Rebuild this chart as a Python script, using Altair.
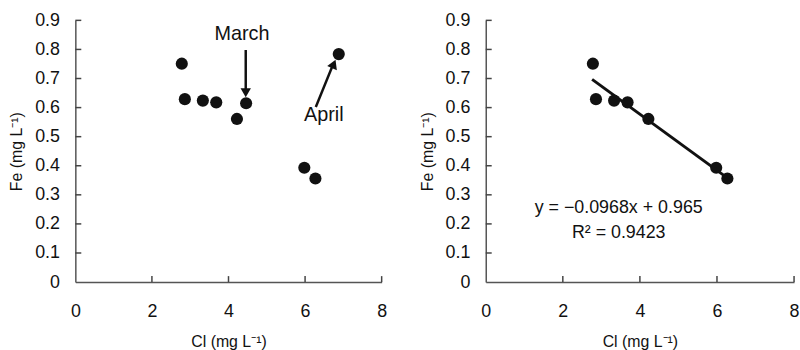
import altair as alt
import pandas as pd

# Data
cl = [2.78, 2.86, 3.33, 3.68, 4.22, 4.46, 5.98, 6.27, 6.88]
fe = [0.751, 0.629, 0.624, 0.618, 0.561, 0.615, 0.393, 0.356, 0.784]
month = ["", "", "", "", "", "March", "", "", "April"]

reg_x = [2.76, 6.25]
reg_y = [0.697, 0.360]

eq_text = ["y = \u22120.0968x + 0.965", "R\u00b2 = 0.9423"]
eq_x = [3.45, 3.45]
eq_y = [0.253, 0.168]

ann_text = ["March", "April"]
ann_x = [4.35, 6.49]
ann_y = [0.852, 0.576]

# arrows: shaft start -> shaft end, head position and rotation
arr_x = [4.45, 6.28]
arr_y = [0.798, 0.602]
arr_x2 = [4.45, 6.72]
arr_y2 = [0.660, 0.745]
head_x = [4.45, 6.75]
head_y = [0.651, 0.750]
head_angle = [180, 23]

ytick_vals = [0, 0.1, 0.2, 0.3, 0.4, 0.5, 0.6, 0.7, 0.8, 0.9]
xtick_vals = [0, 2, 4, 6, 8]

H = 264
LABEL_FONT = "Liberation Sans Narrow, Liberation Sans, Arial"
TEXT_FONT = "Liberation Sans, Arial"

pts = pd.DataFrame({"cl": cl, "fe": fe, "month": month})
pts_fit = pts[pts["month"] == ""]
reg = pd.DataFrame({"cl": reg_x, "fe": reg_y})
eq = pd.DataFrame({"cl": eq_x, "fe": eq_y, "t": eq_text})
ann = pd.DataFrame({"cl": ann_x, "fe": ann_y, "t": ann_text})
arr = pd.DataFrame({"cl": arr_x, "fe": arr_y, "cl2": arr_x2, "fe2": arr_y2})
heads = pd.DataFrame({"cl": head_x, "fe": head_y, "a": head_angle})
yt = pd.DataFrame({"fe": ytick_vals[1:]})
xt = pd.DataFrame({"cl": xtick_vals[1:]})

xscale = alt.Scale(domain=[0, 8], nice=False)
yscale = alt.Scale(domain=[0, 0.9], nice=False)

xaxis = alt.Axis(values=xtick_vals, title="Cl (mg L\u207b\u00b9)", grid=False, ticks=False,
                 labelPadding=21, titlePadding=13, labelFlush=False, labelOverlap=False)
yaxis = alt.Axis(values=ytick_vals, format=".1~f",
                 title="Fe (mg L\u207b\u00b9)", grid=False, ticks=False,
                 labelPadding=16, titlePadding=10, labelFlush=False, labelOverlap=False)

X = alt.X("cl:Q", scale=xscale, axis=xaxis)
Y = alt.Y("fe:Q", scale=yscale, axis=yaxis)

TICK_COLOR = "#444"


def tick_layers():
    # inward-pointing ticks drawn as short rules at the tick values
    ytk = alt.Chart(yt).mark_rule(color=TICK_COLOR, strokeWidth=1.5).encode(
        y=Y, x=alt.value(0), x2=alt.value(6))
    xtk = alt.Chart(xt).mark_rule(color=TICK_COLOR, strokeWidth=1.5).encode(
        x=X, y=alt.value(H), y2=alt.value(H - 6))
    return [ytk, xtk]


WL, WR = 309, 311

left = alt.layer(
    alt.Chart(pts).mark_circle(size=150, color="#111", opacity=1).encode(x=X, y=Y),
    *tick_layers(),
    alt.Chart(ann).mark_text(font=TEXT_FONT, fontSize=20, color="#111", baseline="middle").encode(
        x=X, y=Y, text="t:N"),
    alt.Chart(arr).mark_rule(color="#111", strokeWidth=2.5).encode(
        x=X, y=Y, x2="cl2:Q", y2="fe2:Q"),
    alt.Chart(heads).mark_point(shape="triangle-up", filled=True, size=110, color="#111", opacity=1).encode(
        x=X, y=Y, angle=alt.Angle("a:Q", scale=None)),
).properties(width=WL, height=H)

right = alt.layer(
    alt.Chart(pts_fit).mark_circle(size=150, color="#111", opacity=1).encode(x=X, y=Y),
    *tick_layers(),
    alt.Chart(reg).mark_line(color="#111", strokeWidth=3).encode(x=X, y=Y),
    alt.Chart(eq).mark_text(font=LABEL_FONT, fontSize=18, color="#111", baseline="middle").encode(
        x=X, y=Y, text="t:N"),
).properties(width=WR, height=H)

chart = alt.hconcat(left, right, spacing=31).properties(
    padding={"left": 8, "top": 10, "right": 0, "bottom": 0},
    background="white",
).configure_view(stroke=None).configure_axis(
    domainColor="#555", domainWidth=1.5,
    labelFont=LABEL_FONT, labelFontSize=18, labelColor="#111",
    titleFont=TEXT_FONT, titleFontSize=16, titleFontWeight="normal", titleColor="#111",
)

chart.save("out.html", embed_options={"renderer": "svg", "actions": False})
